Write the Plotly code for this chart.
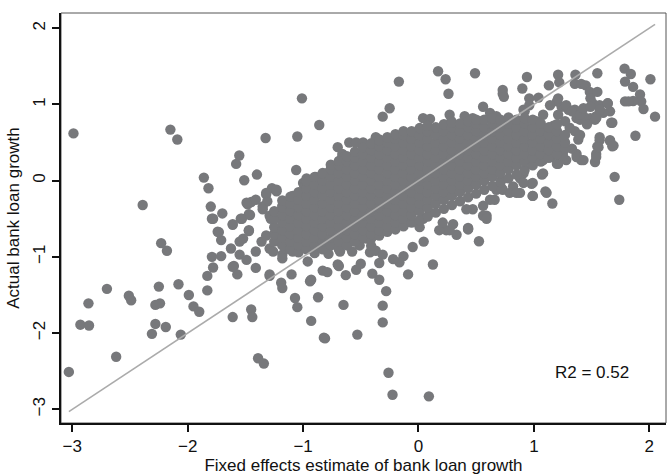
import plotly.graph_objects as go

# ---------------- data ----------------
x_ticks = [-3, -2, -1, 0, 1, 2]
x_ticktext = ["\u22123", "\u22122", "\u22121", "0", "1", "2"]
y_ticks = [-3, -2, -1, 0, 1, 2]
y_ticktext = ["\u22123", "\u22122", "\u22121", "0", "1", "2"]

# scattered points, left part of the cloud
left_x = [-2.99, -2.15, -2.09, -1.325, -1.553, -1.58, -1.86, -1.82, -1.51, -1.40, -2.39, -1.80, -1.79, -1.70,
          -1.61, -1.74, -1.71, -2.23, -2.18, -1.79, -1.71, -1.78, -1.625, -1.53, -1.46, -1.45, -1.48, -1.47,
          -1.35, -1.32, -1.27, -1.23, -2.70, -2.86, -2.93, -2.855, -2.62, -3.03, -2.51, -2.49, -2.25, -2.28,
          -2.24, -2.28, -2.31, -2.19, -2.08, -1.99, -1.95, -1.90, -2.06, -1.83, -1.83, -1.61, -1.57, -1.61,
          -1.45, -1.44, -1.39, -1.34, -1.29, -1.19, -1.18, -1.10, -1.07, -1.05, -0.93, -0.87, -0.82, -0.94,
          -0.93, -0.96, -0.83, -0.79, -0.70, -1.31, -1.49, -1.47, -1.54, -1.61, -1.78, -1.73, -1.60, -1.47,
          -1.52, -1.55, -1.49, -1.41, -1.36, -1.32, -1.28, -1.23, -1.20, -1.18, -1.15, -1.29, -1.41, -1.32,
          -1.23, -1.35, -1.29, -1.18, -1.09, -1.00, -0.89, -0.80, -0.74, -0.68, -0.66, -1.55, -1.41, -1.29,
          -1.18, -1.09, -1.26, -1.12, -0.97, -0.86, -0.74, -0.63, -0.51, -0.45, -0.37, -1.06, -0.70, -0.66,
          -0.74, -0.80, -0.89, -0.97, -0.99]
left_y = [0.62, 0.67, 0.54, 0.56, 0.33, 0.22, 0.04, -0.10, 0.005, 0.08, -0.32, -0.34, -0.50, -0.43,
          -0.58, -0.67, -0.78, -0.82, -0.92, -1.00, -0.99, -1.14, -0.89, -0.50, -0.45, -0.28, -0.31, -0.66,
          -0.34, -0.18, -0.10, -0.14, -1.42, -1.61, -1.89, -1.90, -2.31, -2.51, -1.51, -1.57, -1.39, -1.63,
          -1.61, -1.88, -2.01, -1.92, -1.36, -1.50, -1.65, -1.72, -2.02, -1.25, -1.44, -1.13, -1.23, -1.79,
          -1.69, -1.79, -2.33, -2.40, -1.25, -1.34, -1.41, -1.23, -1.54, -1.66, -1.84, -1.53, -2.06, -1.32,
          -1.30, -1.06, -1.18, -1.20, -1.10, -0.27, -0.29, -0.44, -0.50, -0.57, -0.50, -0.675, -1.12, -0.65,
          -0.76, -0.97, -1.04, -0.93, -0.80, -0.72, -0.50, -0.63, -0.80, -0.97, -0.89, -0.89, -0.25, -0.16,
          -0.12, -0.375, -0.46, -0.33, -0.20, -0.03, 0.05, 0.095, 0.18, 0.22, 0.31, -0.80, -1.145, -1.23,
          -1.02, -0.93, -0.93, -0.89, -0.85, -0.76, -0.76, -0.80, -0.85, -0.76, -0.675, 0.14, 0.44, 0.35,
          0.19, 0.09, 0.04, 0.03, -0.08]

# scattered points below the cloud (middle)
lower_x = [0.524, 0.125, -0.09, -0.13, -0.165, -0.22, 0.045, -0.05, 0.33, 0.43, 0.24, 0.18, -0.34, -0.34,
           -0.40, -0.28, -0.31, -0.31, -0.53, -0.26, -0.225, 0.09, -0.65, -0.81, -0.69, -0.63, -0.54, -0.50,
           -0.42, -0.37, -0.31, -0.41, -0.78, -0.68, -0.575, -0.22, -0.11, 0.01, 0.27, 0.43, 0.59, 0.66,
           0.73, 0.56, 0.47, 0.675, 0.62, 0.56, 0.59, 0.415, 0.43, 0.30, 0.21, 0.10, 0.04, -0.02, -0.16, -0.31]
lower_y = [-0.795, -1.10, -1.23, -0.99, -1.07, -1.03, -0.80, -0.87, -0.71, -0.64, -0.65, -0.65, -1.08, -1.30,
           -1.22, -1.45, -1.64, -1.86, -2.02, -2.52, -2.81, -2.83, -1.63, -2.07, -1.12, -1.24, -1.17, -1.09,
           -0.94, -0.92, -0.97, -0.855, -0.96, -0.93, -0.93, -0.48, -0.55, -0.61, -0.65, -0.62, -0.46, -0.25,
           -0.12, -0.33, -0.375, -0.12, -0.25, -0.46, -0.50, -0.375, -0.63, -0.57, -0.55, -0.42, -0.50, -0.33,
           -0.46, -0.63]

# scattered points, right part of the cloud
right_x = [1.786, 1.84, 2.01, 1.79, 1.86, 2.05, 1.88, 1.70, 1.74, 1.16, 0.99, 1.10, 0.98, 1.07, 1.92, 1.93,
           1.95, 1.86, 1.79, 1.82, 1.68, 1.66, 1.68, 1.57, 1.55, 1.54, 1.53, 1.55, 1.36, 1.21, 0.94, 0.90,
           1.13, 1.22, 1.355, 1.41, 1.45, 1.485, 1.55, 0.73, 0.96, 1.04, 1.49, 1.51, 1.57, 1.64, 1.66, 1.60,
           1.54, 1.49, 1.43, 1.37, 1.355, 1.30, 1.24, 1.20, 1.53, 1.46, 1.40, 1.355, 1.40, 1.385, 1.33, 1.37,
           1.41, 1.25, 1.24, 1.28, 1.21, 1.15, 1.08, 1.31, 1.27, 1.21, 1.17, 1.11, 1.07, 0.86, 0.92, 1.02,
           1.04, 1.01, 0.99, 0.91, 0.88, 0.82, 0.79, 0.88, 0.72, 0.72, 0.91, 0.96, 1.08, 1.14, 1.21, 1.28,
           1.33, 1.40, 1.43, 1.49, 1.57, 1.54, 1.64, 1.67, 1.08, 1.14, 1.20, 1.25, 1.37, 1.43, 1.54, 1.56,
           1.57, 1.66, 1.69, 0.99, 1.08, 1.11, 0.99, 0.85, 0.91]
right_y = [1.47, 1.40, 1.33, 1.30, 1.23, 0.84, 0.59, 0.05, -0.25, -0.30, -0.20, -0.14, -0.04, 0.08, 1.13, 1.04,
           0.94, 1.045, 1.04, 1.04, 0.76, 0.53, 0.45, 0.53, 0.45, 0.35, 0.245, 1.41, 1.39, 1.39, 1.36, 1.21,
           1.25, 1.29, 1.27, 1.27, 1.25, 1.165, 1.165, 1.14, 1.08, 1.09, 1.08, 1.015, 0.99, 1.015, 0.91, 0.89,
           0.845, 0.82, 0.845, 0.82, 0.93, 0.93, 0.97, 1.04, 0.80, 0.74, 0.80, 0.65, 0.60, 0.54, 0.42, 0.35,
           0.27, 0.35, 0.48, 0.27, 0.22, 0.31, 0.27, 0.695, 0.78, 0.865, 0.72, 0.63, 0.57, 0.74, 0.91, 0.78,
           0.50, 0.35, 0.245, 0.095, 0.03, -0.075, -0.16, -0.16, -0.10, 0.01, 0.93, 0.99, 0.865, 0.99, 1.08, 0.99,
           0.91, 0.865, 0.95, 0.97, 0.93, 0.82, 1.015, 0.76, 0.35, 0.40, 0.22, 0.33, 0.31, 0.27, 0.31, 0.44,
           0.57, 0.52, 0.46, -0.03, 0.095, -0.16, -0.20, -0.16, -0.03]

# scattered points above the cloud
upper_x = [0.17, 0.235, 0.49, -0.17, 0.26, -1.01, -0.25, -0.31, -0.86, -1.05, 0.73, 0.74, 0.56, 0.04, 0.10,
           0.01, 0.08, -0.06, 0.27, 0.285, 0.40, 0.41, -0.60, -0.54, -0.48, -0.34, -0.34, -0.41, -0.38, -0.47,
           -0.56, -0.64, -0.54, -0.67, -0.37, -0.32, -0.19, -0.11, -0.05, 0.47, 0.53, 0.62, 0.675, 0.73]
upper_y = [1.435, 1.33, 1.41, 1.30, 1.14, 1.08, 0.95, 0.84, 0.73, 0.58, 1.19, 1.10, 0.97, 0.82, 0.81,
           0.67, 0.65, 0.61, 0.865, 0.78, 0.845, 0.72, 0.50, 0.50, 0.50, 0.54, 0.44, 0.36, 0.245, 0.23,
           0.275, 0.31, 0.095, 0.095, 0.57, 0.48, 0.48, 0.52, 0.61, 0.82, 0.78, 0.89, 0.845, 0.74]

# dense core of the cloud, column by column
core_col_x = [-1.25, -1.18, -1.11, -1.04, -0.97, -0.90, -0.83, -0.76, -0.69, -0.62, -0.55, -0.48, -0.41,
              -0.34, -0.27, -0.20, -0.13, -0.06, 0.01, 0.08, 0.15, 0.22, 0.29, 0.36, 0.43, 0.50, 0.57, 0.64,
              0.71, 0.78, 0.85, 0.92, 0.99, 1.06, 1.13, 1.20, 1.27]
core_col_y = [
    [-0.80, -0.70, -0.61, -0.50, -0.40],
    [-0.85, -0.75, -0.65, -0.55, -0.45, -0.35, -0.26],
    [-0.90, -0.80, -0.70, -0.60, -0.50, -0.40, -0.30, -0.21],
    [-0.94, -0.85, -0.75, -0.65, -0.55, -0.45, -0.35, -0.25, -0.15],
    [-0.90, -0.80, -0.70, -0.60, -0.50, -0.40, -0.30, -0.20, -0.10, -0.01],
    [-0.95, -0.85, -0.75, -0.65, -0.55, -0.45, -0.35, -0.25, -0.15, -0.05, 0.05],
    [-0.90, -0.80, -0.70, -0.60, -0.50, -0.40, -0.30, -0.20, -0.10, 0.00, 0.10],
    [-0.85, -0.75, -0.65, -0.55, -0.45, -0.35, -0.25, -0.15, -0.05, 0.05, 0.15, 0.21],
    [-0.90, -0.80, -0.70, -0.60, -0.50, -0.40, -0.30, -0.20, -0.10, 0.00, 0.10, 0.20, 0.26],
    [-0.85, -0.75, -0.65, -0.55, -0.45, -0.35, -0.25, -0.15, -0.05, 0.05, 0.15, 0.25, 0.32],
    [-0.80, -0.70, -0.60, -0.50, -0.40, -0.30, -0.20, -0.10, 0.00, 0.10, 0.20, 0.30, 0.38],
    [-0.75, -0.65, -0.55, -0.45, -0.35, -0.25, -0.15, -0.05, 0.05, 0.15, 0.25, 0.35, 0.44],
    [-0.76, -0.70, -0.60, -0.50, -0.40, -0.30, -0.20, -0.10, 0.00, 0.10, 0.20, 0.30, 0.40, 0.49],
    [-0.72, -0.65, -0.55, -0.45, -0.35, -0.25, -0.15, -0.05, 0.05, 0.15, 0.25, 0.35, 0.45, 0.53],
    [-0.67, -0.60, -0.50, -0.40, -0.30, -0.20, -0.10, 0.00, 0.10, 0.20, 0.30, 0.40, 0.50, 0.57],
    [-0.64, -0.55, -0.45, -0.35, -0.25, -0.15, -0.05, 0.05, 0.15, 0.25, 0.35, 0.45, 0.55, 0.61],
    [-0.60, -0.50, -0.40, -0.30, -0.20, -0.10, 0.00, 0.10, 0.20, 0.30, 0.40, 0.50, 0.60, 0.65],
    [-0.55, -0.45, -0.35, -0.25, -0.15, -0.05, 0.05, 0.15, 0.25, 0.35, 0.45, 0.55, 0.65],
    [-0.52, -0.40, -0.30, -0.20, -0.10, 0.00, 0.10, 0.20, 0.30, 0.40, 0.50, 0.60, 0.69],
    [-0.47, -0.35, -0.25, -0.15, -0.05, 0.05, 0.15, 0.25, 0.35, 0.45, 0.55, 0.65, 0.72],
    [-0.42, -0.30, -0.20, -0.10, 0.00, 0.10, 0.20, 0.30, 0.40, 0.50, 0.60, 0.70],
    [-0.37, -0.25, -0.15, -0.05, 0.05, 0.15, 0.25, 0.35, 0.45, 0.55, 0.65, 0.74],
    [-0.32, -0.20, -0.10, 0.00, 0.10, 0.20, 0.30, 0.40, 0.50, 0.60, 0.70, 0.76],
    [-0.27, -0.15, -0.05, 0.05, 0.15, 0.25, 0.35, 0.45, 0.55, 0.65, 0.75],
    [-0.22, -0.10, 0.00, 0.10, 0.20, 0.30, 0.40, 0.50, 0.60, 0.70, 0.78],
    [-0.17, -0.05, 0.05, 0.15, 0.25, 0.35, 0.45, 0.55, 0.65, 0.75, 0.80],
    [-0.12, 0.00, 0.10, 0.20, 0.30, 0.40, 0.50, 0.60, 0.70, 0.80],
    [-0.07, 0.05, 0.15, 0.25, 0.35, 0.45, 0.55, 0.65, 0.75, 0.82],
    [-0.02, 0.10, 0.20, 0.30, 0.40, 0.50, 0.60, 0.70, 0.80],
    [0.03, 0.15, 0.25, 0.35, 0.45, 0.55, 0.65, 0.75, 0.83],
    [0.08, 0.20, 0.30, 0.40, 0.50, 0.60, 0.70, 0.80],
    [0.14, 0.25, 0.35, 0.45, 0.55, 0.65, 0.75, 0.82],
    [0.20, 0.30, 0.40, 0.50, 0.60, 0.70, 0.80],
    [0.25, 0.35, 0.45, 0.55, 0.65, 0.75],
    [0.30, 0.40, 0.50, 0.60, 0.70],
    [0.35, 0.45, 0.55, 0.65, 0.74],
    [0.42, 0.50, 0.60],
]

# 45-degree reference line, spanning the x range of the data
fit_x = [-3.03, 2.05]
fit_y = [-3.03, 2.05]

r2_text = "R2 = 0.52"
x_title = "Fixed effects estimate of bank loan growth"
y_title = "Actual bank loan growth"

# ---------------- assemble ----------------
core_x, core_y = [], []
for cx, ys in zip(core_col_x, core_col_y):
    for yv in ys:
        core_x.append(cx)
        core_y.append(yv)

all_x = left_x + lower_x + right_x + upper_x + core_x
all_y = left_y + lower_y + right_y + upper_y + core_y

FONT = "Liberation Sans, Arial, sans-serif"
MARKER = "#77787b"

fig = go.Figure()
fig.add_trace(go.Scatter(
    x=all_x, y=all_y, mode="markers",
    marker=dict(size=10.4, color=MARKER, line=dict(width=0)),
    showlegend=False, hoverinfo="skip"))
fig.add_trace(go.Scatter(
    x=fit_x, y=fit_y, mode="lines",
    line=dict(color="#ababab", width=1.6),
    showlegend=False, hoverinfo="skip"))

fig.update_layout(
    width=670, height=476,
    margin=dict(l=61, r=4, t=13, b=44),
    paper_bgcolor="white", plot_bgcolor="white",
    font=dict(family=FONT, size=16, color="#111"),
    xaxis=dict(
        range=[-3.098, 2.145], tickvals=x_ticks, ticktext=x_ticktext,
        showgrid=False, zeroline=False,
        showline=True, linecolor="#111", linewidth=2, mirror=False,
        ticks="outside", ticklen=7, tickwidth=2, tickcolor="#111",
        tickfont=dict(size=17, family=FONT),
        title=dict(text=x_title, font=dict(size=17, family=FONT), standoff=4),
    ),
    yaxis=dict(
        range=[-3.18, 2.2], tickvals=y_ticks, ticktext=y_ticktext,
        showgrid=False, zeroline=False,
        showline=True, linecolor="#111", linewidth=2, mirror=False,
        ticks="outside", ticklen=7, tickwidth=2, tickcolor="#111",
        tickangle=-90,
        tickfont=dict(size=17, family=FONT),
        title=dict(text=y_title, font=dict(size=17, family=FONT), standoff=6),
    ),
    shapes=[dict(type="rect", xref="paper", yref="paper", x0=0, y0=0, x1=1, y1=1,
                 line=dict(color="#555", width=1), layer="below")],
    annotations=[dict(x=1.50, y=-2.515, xref="x", yref="y", text=r2_text, showarrow=False,
                      font=dict(size=17, family=FONT, color="#111"))],
)

fig.write_html("out.html")
